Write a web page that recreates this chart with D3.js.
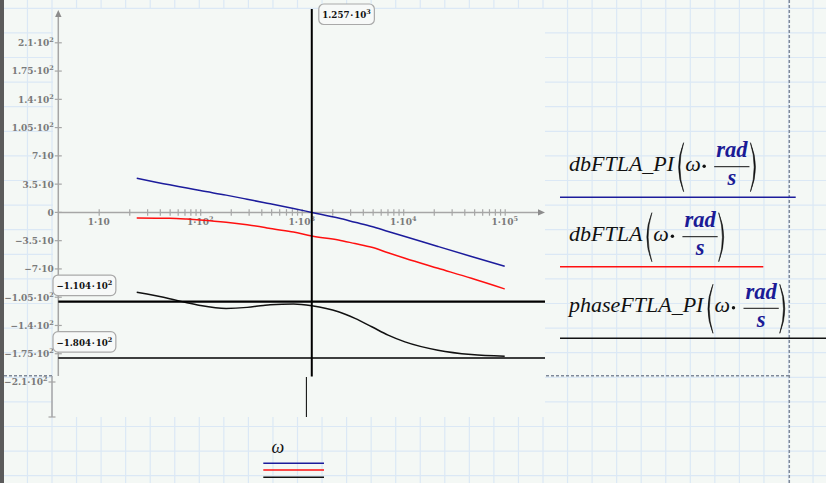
<!DOCTYPE html>
<html>
<head>
<meta charset="utf-8">
<script src="https://cdn.jsdelivr.net/npm/d3@7"></script>
<style>
  html, body { margin: 0; padding: 0; background: #f4f8f5; }
  svg { display: block; }
  .tick-label { font-family: "DejaVu Serif", serif; font-weight: bold; font-size: 9px; fill: #7a7a7a; }
  .marker-label { font-family: "DejaVu Serif", serif; font-weight: bold; font-size: 8.7px; fill: #111; }
  .expr { font-family: "Liberation Serif", serif; font-style: italic; font-size: 22px; fill: #111; }
  .unit { font-family: "Liberation Serif", serif; font-style: italic; font-weight: bold; font-size: 22.5px; fill: #1b1b96; }
</style>
</head>
<body>
<svg id="chart" width="826" height="483"></svg>
<script>

// frequency samples (rad/s) shared by the three traces
const omega = [23.7, 50, 74, 100, 180, 290, 420, 490, 830, 1257,
               2300, 3350, 4900, 7100, 10400, 22000, 47000, 100000];

// open loop gain with PI controller (dB)
const dbPI = [42.4, 34.1, 30.2, 27.0, 21.4, 16.3, 12.2, 10.6, 4.8, 0,
              -7, -12.2, -17.4, -23.6, -29.8, -42.2, -54.6, -66.6];

// open loop gain without controller (dB)
const dbLA = [-6.8, -7.2, -8.2, -9.3, -12.1, -15.3, -18.4, -20, -24.4, -29.2,
              -34.1, -38.6, -43.2, -50, -56.8, -69.2, -81.6, -94.8];

// phase with PI controller (deg)
const phasePI = [-99, -106.8, -111.9, -115.2, -118.9, -117.6, -115.2, -114.4, -113.5, -115.6,
                 -123, -131.3, -141.6, -152, -160.3, -170.6, -176, -178];

// y tick values and x decades
const yTicks = [210, 175, 140, 105, 70, 35, 0, -35, -70, -105, -140, -175, -210];
const xDecades = [10, 100, 1000, 10000, 100000];

// marker lines (crossover frequency, phase values)
const xMarkers = [1257];
const yMarkers = [-110.4, -180.4];

const legendNames = ["dbFTLA_PI", "dbFTLA", "phaseFTLA_PI"];
const traceColors = ["#1c1c9c", "#ff1010", "#111111"];

let svg = d3.select('#chart');
const W = 826, H = 483;

// worksheet background + grid
svg.append('rect').attr('width', W).attr('height', H).attr('fill', '#f4f8f5');
let grid = svg.append('g').attr('stroke', '#dbe8f5').attr('stroke-width', 1.2);
for (let gx = 2.9; gx < W; gx += 24.55)
    grid.append('line').attr('x1', gx).attr('x2', gx).attr('y1', 0).attr('y2', H);
for (let gy = 8.3; gy < H; gy += 24.6)
    grid.append('line').attr('x1', 0).attr('x2', W).attr('y1', gy).attr('y2', gy);
svg.append('rect').attr('x', 0).attr('y', 0).attr('width', 4).attr('height', H).attr('fill', '#5b5b5b');

// plot region covers the grid
svg.append('rect').attr('x', 53).attr('y', 9).attr('width', 492).attr('height', 408).attr('fill', '#f4f8f5');

// region borders (dashed)
let dash = svg.append('g').attr('stroke', '#7f8999').attr('stroke-width', 1.5).attr('stroke-dasharray', '3,2');
dash.append('line').attr('x1', 4).attr('x2', 53).attr('y1', 375.7).attr('y2', 375.7);
dash.append('line').attr('x1', 546).attr('x2', 789).attr('y1', 375.7).attr('y2', 375.7);
dash.append('line').attr('x1', 789.3).attr('x2', 789.3).attr('y1', 0).attr('y2', H);

// scales
let x = d3.scaleLog().domain([10, 100000]).range([98.7, 504.7]);
let y = d3.scaleLinear().domain([-210, 210]).range([382, 42.8]);
const x0 = 58.3, y0 = y(0);

// writes "m·10^e" as text with a superscript
function sci(sel, v, sep, digits) {
    if (v === 0) { sel.text('0'); return; }
    let a = Math.abs(v);
    let e = Math.floor(Math.log10(a) + 1e-9);
    let m = +(a / Math.pow(10, e)).toFixed(digits);
    sel.text((v < 0 ? '\u2212' : '') + m + sep + '10');
    if (e > 1)
        sel.append('tspan').attr('dy', -4).attr('font-size', '6.5px').text(e);
}

// axes
let axes = svg.append('g').attr('class', 'axes');
axes.append('line').attr('x1', x0).attr('x2', x0).attr('y1', 15).attr('y2', 376)
    .attr('stroke', '#a6a6a6').attr('stroke-width', 1.5);
axes.append('line').attr('x1', x0).attr('x2', 540).attr('y1', y0).attr('y2', y0)
    .attr('stroke', '#a6a6a6').attr('stroke-width', 1.5);
axes.append('path').attr('d', `M${x0} 10 L${x0 + 3.2} 17 L${x0 - 3.2} 17 Z`).attr('fill', '#8c8c8c');
axes.append('path').attr('d', `M545 ${y0} L538 ${y0 - 3.2} L538 ${y0 + 3.2} Z`).attr('fill', '#8c8c8c');

// the shifted stub under the plot (as drawn by the worksheet)
axes.append('line').attr('x1', 52).attr('x2', 52).attr('y1', 376).attr('y2', 417)
    .attr('stroke', '#a6a6a6').attr('stroke-width', 1.5);
axes.append('line').attr('x1', 48.5).attr('x2', 55.5).attr('y1', 417).attr('y2', 417)
    .attr('stroke', '#a6a6a6').attr('stroke-width', 1.2);

// x ticks, every integer multiple within each decade
let minor = [];
xDecades.forEach(function(d) {
    for (let k = 1; k < 10; k++)
        if (d * k <= 100000) minor.push(d * k);
});
let xAxis = d3.axisBottom(x).tickValues(minor).tickSize(6.5).tickFormat('');
axes.append('g').attr('transform', `translate(0,${y0 - 3.2})`).call(xAxis)
    .call(g => g.select('.domain').remove())
    .selectAll('line').attr('stroke', '#a6a6a6').attr('stroke-width', 1.2);

axes.selectAll('.xlab').data(xDecades).enter()
    .append('text')
    .attr('class', 'tick-label')
    .attr('text-anchor', 'middle')
    .attr('x', d => x(d))
    .attr('y', y0 + 12.5)
    .each(function(d) {
        let t = d3.select(this);
        let e = Math.round(Math.log10(d));
        t.text('1\u00b710');
        if (e > 1) t.append('tspan').attr('dy', -4).attr('font-size', '6.5px').text(e);
    });

// y ticks
yTicks.forEach(function(v, i) {
    let last = (i === yTicks.length - 1);
    let cx = last ? 52 : x0;
    axes.append('line').attr('x1', cx - 3.5).attr('x2', cx + 3.5).attr('y1', y(v)).attr('y2', y(v))
        .attr('stroke', '#a6a6a6').attr('stroke-width', 1.2);
    axes.append('text').attr('class', 'tick-label')
        .attr('text-anchor', 'end')
        .attr('x', cx - 4.5)
        .attr('y', y(v) + 3.4)
        .call(sci, v, '\u00b7', 2);
});

// traces
let traces = [dbPI, dbLA, phasePI];
let line = d3.line()
    .x(d => x(d[0]))
    .y(d => y(d[1]))
    .curve(d3.curveMonotoneX);
traces.forEach(function(vals, i) {
    svg.append('path')
        .datum(omega.map((w, k) => [w, vals[k]]))
        .attr('d', line)
        .attr('fill', 'none')
        .attr('stroke', traceColors[i])
        .attr('stroke-width', 1.5);
});

// marker lines
let markers = svg.append('g').attr('class', 'markers');
xMarkers.forEach(function(m) {
    markers.append('line').attr('x1', x(m)).attr('x2', x(m)).attr('y1', 9).attr('y2', 376.5)
        .attr('stroke', '#000').attr('stroke-width', 2);
    markers.append('line').attr('x1', x(m) - 5.4).attr('x2', x(m) - 5.4).attr('y1', 377).attr('y2', 417)
        .attr('stroke', '#000').attr('stroke-width', 1);
    label(x(m) + 7, 4, m);
});
yMarkers.forEach(function(m, i) {
    markers.append('line').attr('x1', x0).attr('x2', 545).attr('y1', y(m)).attr('y2', y(m))
        .attr('stroke', '#000').attr('stroke-width', i === 0 ? 2.2 : 1.5);
    label(53, y(m) - 26.5, m);
});

// rounded readout box next to a marker
function label(bx, by, v) {
    let g = markers.append('g');
    let r = g.append('rect');
    let t = g.append('text').attr('class', 'marker-label')
        .attr('x', bx + 3.5).attr('y', by + 14)
        .call(sci, v, '\u200a\u00b7\u200a', 3);
    let w = t.node().getComputedTextLength();
    r.attr('x', bx).attr('y', by).attr('width', w + 7).attr('height', 20.5)
        .attr('rx', 5).attr('fill', '#f7f9f8').attr('stroke', '#a9a9a9').attr('stroke-width', 1.2);
}

// legend expressions on the right
const legBase = [170.7, 240.7, 312.3];
const legLine = [[197.3, 795.7], [266.7, 763.3], [338.3, 826]];

function paren(g, px, b, open) {
    let top = b - 28, bot = b + 21, mid = (top + bot) / 2;
    let d = open
        ? `M${px + 7} ${top} Q${px - 3} ${mid} ${px + 7} ${bot} Q${px - 0.5} ${mid} ${px + 7} ${top} Z`
        : `M${px} ${top} Q${px + 10} ${mid} ${px} ${bot} Q${px + 7.5} ${mid} ${px} ${top} Z`;
    g.append('path').attr('d', d).attr('fill', '#111').attr('stroke', '#111').attr('stroke-width', 0.6);
}

legendNames.forEach(function(name, i) {
    let g = svg.append('g');
    let b = legBase[i];
    let t = g.append('text').attr('class', 'expr').attr('x', 569).attr('y', b).text(name);
    let px = 569 + t.node().getComputedTextLength() + 2.5;
    paren(g, px, b, true);
    let om = g.append('text').attr('class', 'expr').attr('x', px + 8.5).attr('y', b).text('\u03c9');
    let dx = px + 8.5 + om.node().getComputedTextLength() + 3.5;
    g.append('circle').attr('cx', dx).attr('cy', b - 4.5).attr('r', 1.7).attr('fill', '#111');
    let fx = dx + 12;
    let rad = g.append('text').attr('class', 'unit').attr('x', fx).attr('y', b - 13.4).text('rad');
    let rw = rad.node().getComputedTextLength();
    g.append('line').attr('x1', fx - 2).attr('x2', fx + rw + 2).attr('y1', b - 4).attr('y2', b - 4)
        .attr('stroke', '#111').attr('stroke-width', 1);
    g.append('text').attr('class', 'unit').attr('text-anchor', 'middle')
        .attr('x', fx + rw / 2).attr('y', b + 14.3).text('s');
    paren(g, fx + rw + 3, b, false);
    g.append('line').attr('x1', 560).attr('x2', legLine[i][1]).attr('y1', legLine[i][0]).attr('y2', legLine[i][0])
        .attr('stroke', traceColors[i]).attr('stroke-width', 1.5);
});

// x-axis variable and its trace key below the plot
svg.append('text').attr('class', 'expr').style('font-size', '18px')
    .attr('x', 271.5).attr('y', 452.7).text('\u03c9');
[463.3, 470, 477.3].forEach(function(ly, i) {
    svg.append('line').attr('x1', 263.3).attr('x2', 324).attr('y1', ly).attr('y2', ly)
        .attr('stroke', traceColors[i]).attr('stroke-width', 1.5);
});

</script>
</body>
</html>
